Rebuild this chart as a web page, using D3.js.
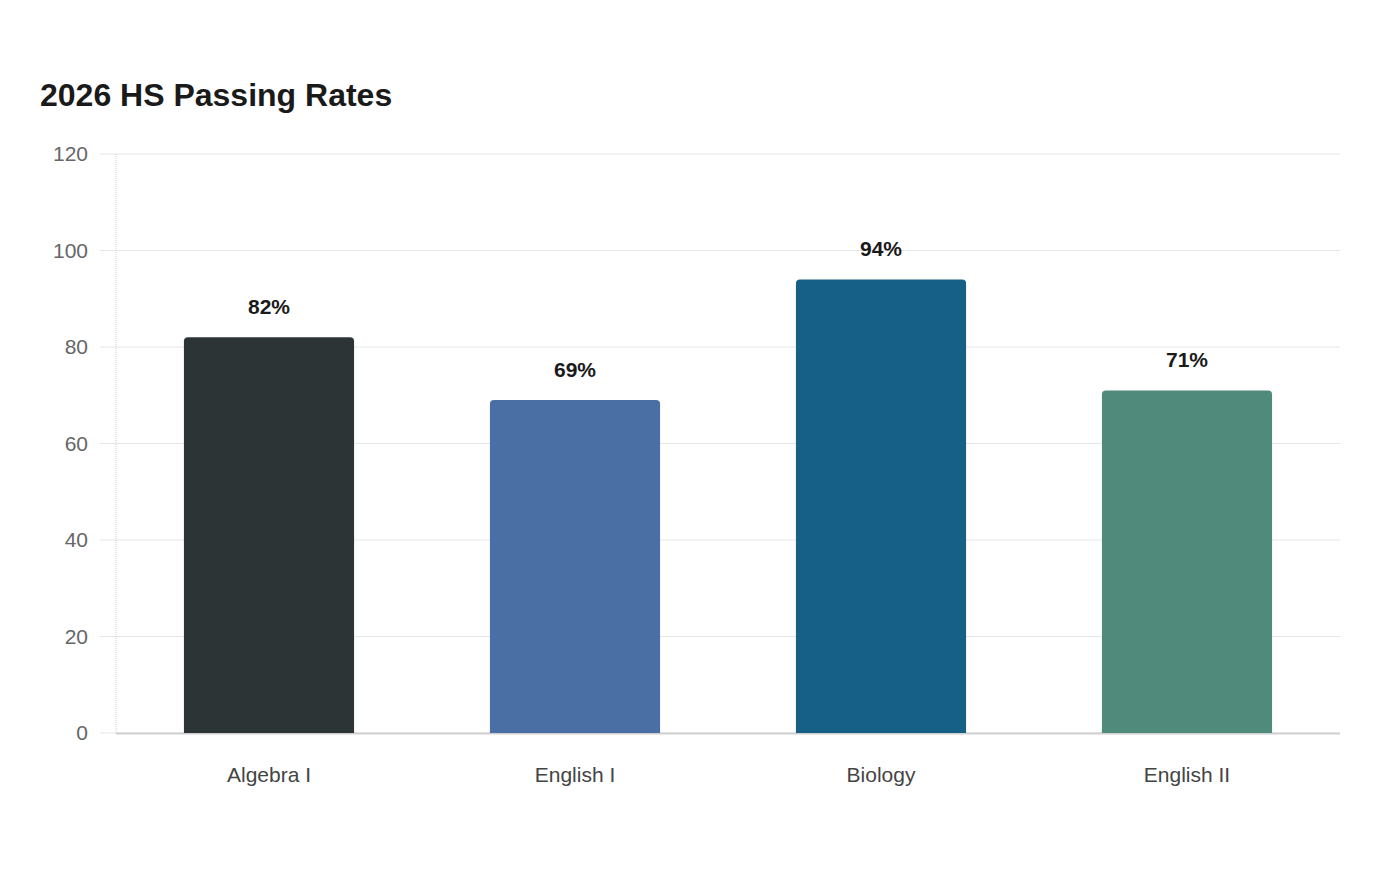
<!DOCTYPE html>
<html>
<head>
<meta charset="utf-8">
<script src="https://cdn.jsdelivr.net/npm/d3@7"></script>
<style>
  body { margin: 0; background: #fff; font-family: "Liberation Sans", Arial, sans-serif; }
  svg { display: block; }
</style>
</head>
<body>
<svg width="1400" height="880"></svg>
<script>
// chart data
const subjects = ["Algebra I", "English I", "Biology", "English II"];
const passRates = [82, 69, 94, 71];
const barColors = ["#2d3436", "#4a6fa5", "#166088", "#4f8a7b"];
const yTicks = [0, 20, 40, 60, 80, 100, 120];

var svgWidth = 1400, svgHeight = 880;
var margin = {top: 154, right: 60, bottom: 147, left: 116};
var width = svgWidth - margin.left - margin.right;
var height = svgHeight - margin.top - margin.bottom;

var svg = d3.select("svg");

svg.append("text")
	.attr("x", 40)
	.attr("y", 106)
	.attr("font-size", 32)
	.attr("font-weight", "bold")
	.attr("fill", "#1a1a1a")
	.text("2026 HS Passing Rates");

var g = svg.append("g")
	.attr("transform", "translate(" + margin.left + "," + margin.top + ")");

var x = d3.scaleBand()
	.domain(subjects)
	.range([0, width])
	.paddingInner(0.444)
	.paddingOuter(0.222);

var y = d3.scaleLinear()
	.domain([0, 120])
	.range([height, 0]);

// gridlines
g.append("g")
	.selectAll("line")
	.data(yTicks)
	.join("line")
	.attr("x1", -16)
	.attr("x2", width)
	.attr("y1", d => y(d))
	.attr("y2", d => y(d))
	.attr("stroke", "#e6e6e6")
	.attr("stroke-width", 1);

// y axis line
g.append("line")
	.attr("x1", 0).attr("x2", 0)
	.attr("y1", 0).attr("y2", height)
	.attr("stroke", "#d0d0d0")
	.attr("stroke-dasharray", "1,1");

// y tick labels
var yAxis = g.append("g")
	.call(d3.axisLeft(y).tickValues(yTicks).tickSize(0).tickPadding(28));
yAxis.select(".domain").remove();
yAxis.selectAll("text")
	.attr("font-family", "Liberation Sans, Arial, sans-serif")
	.attr("font-size", 21)
	.attr("fill", "#666");

// baseline
g.append("line")
	.attr("x1", 0).attr("x2", width)
	.attr("y1", height + 0.5).attr("y2", height + 0.5)
	.attr("stroke", "#cfcfcf")
	.attr("stroke-width", 2);

// bars with rounded top corners
var r = 4;
function barPath(d, i) {
	var x0 = x(subjects[i]), w = x.bandwidth();
	var y0 = y(d), y1 = y(0);
	return "M" + x0 + "," + y1 +
		"V" + (y0 + r) +
		"Q" + x0 + "," + y0 + " " + (x0 + r) + "," + y0 +
		"H" + (x0 + w - r) +
		"Q" + (x0 + w) + "," + y0 + " " + (x0 + w) + "," + (y0 + r) +
		"V" + y1 + "Z";
}

g.selectAll(".bar")
	.data(passRates)
	.join("path")
	.attr("class", "bar")
	.attr("d", barPath)
	.attr("fill", (d, i) => barColors[i]);

// value labels
g.selectAll(".val")
	.data(passRates)
	.join("text")
	.attr("class", "val")
	.attr("x", (d, i) => x(subjects[i]) + x.bandwidth() / 2)
	.attr("y", d => y(d) - 23)
	.attr("text-anchor", "middle")
	.attr("font-size", 21)
	.attr("font-weight", "bold")
	.attr("fill", "#1a1a1a")
	.text(d => d + "%");

// x axis labels
var xAxis = g.append("g")
	.attr("transform", "translate(0," + height + ")")
	.call(d3.axisBottom(x).tickSize(0).tickPadding(34));
xAxis.select(".domain").remove();
xAxis.selectAll("text")
	.attr("font-family", "Liberation Sans, Arial, sans-serif")
	.attr("font-size", 21)
	.attr("fill", "#444");
</script>
</body>
</html>
